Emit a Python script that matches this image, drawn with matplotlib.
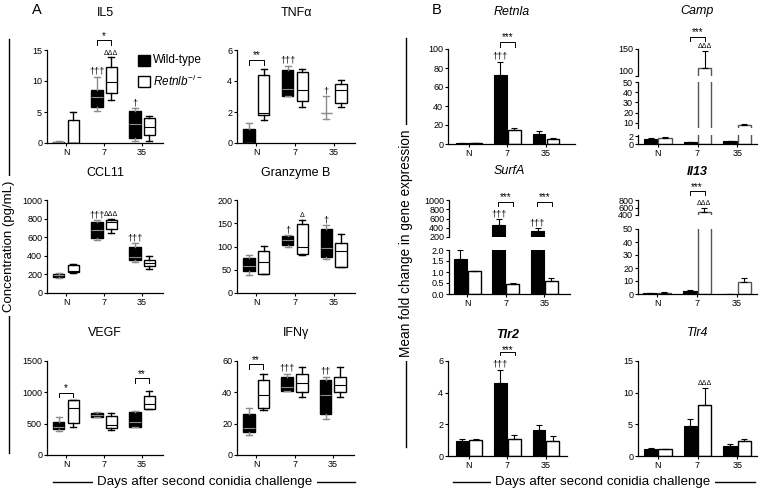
import numpy as np
import matplotlib
matplotlib.use("Agg")
import matplotlib.pyplot as plt
from matplotlib.lines import Line2D
from matplotlib.patches import Rectangle

plt.rcParams['font.family'] = ['Liberation Sans', 'DejaVu Sans']
plt.rcParams['mathtext.fontset'] = 'custom'
plt.rcParams['mathtext.it'] = 'Liberation Sans:italic'
plt.rcParams['mathtext.rm'] = 'Liberation Sans'

W, H = 760, 492
groups = ['N', '7', '35']

# box plots: [low whisker, q1, median, q3, high whisker] for N, 7, 35
il5_wt = [[0, 0.05, 0.1, 0.2, 0.3], [5.2, 5.8, 7.5, 8.5, 10.7], [0.3, 0.8, 3.0, 5.2, 5.6]]
il5_ko = [[0, 0, 0, 3.7, 5.0], [7.0, 8.0, 9.8, 12.3, 13.8], [0.4, 1.3, 2.6, 4.0, 4.4]]
tnf_wt = [[0, 0, 0, 0.9, 1.3], [3.05, 3.05, 3.5, 4.7, 5.0], [1.55, 1.95, 1.95, 1.95, 3.05]]
tnf_ko = [[1.5, 1.8, 1.95, 4.4, 4.8], [2.35, 2.7, 3.4, 4.6, 4.8], [2.35, 2.6, 3.4, 3.8, 4.05]]
ccl11_wt = [[160, 175, 190, 205, 215], [570, 590, 680, 760, 780], [330, 350, 390, 500, 540]]
ccl11_ko = [[210, 225, 240, 300, 310], [650, 690, 765, 780, 800], [260, 285, 320, 360, 400]]
gzmb_wt = [[38, 48, 57, 75, 82], [100, 104, 114, 122, 124], [73, 78, 96, 137, 146]]
gzmb_ko = [[40, 40, 66, 90, 101], [82, 84, 100, 148, 158], [56, 56, 91, 108, 127]]
vegf_wt = [[380, 410, 450, 530, 610], [600, 610, 640, 670, 680], [440, 440, 530, 680, 710]]
vegf_ko = [[440, 510, 750, 870, 880], [400, 430, 480, 620, 670], [730, 730, 810, 940, 1020]]
ifng_wt = [[13, 15, 17, 26, 30], [41, 41, 43.5, 50, 52], [23, 26, 38.5, 48, 50]]
ifng_ko = [[29, 30, 38, 48, 52], [37, 40, 46, 52, 56], [37, 40, 44.5, 50, 56]]

# bar charts: means and upper error (SEM) for N, 7, 35
retnla_wt, retnla_wt_err = [1.2, 73, 11], [0.3, 13, 2.5]
retnla_ko, retnla_ko_err = [1.0, 15, 5], [0.2, 1.5, 1.0]
camp_wt, camp_wt_err = [1.3, 0.5, 0.7], [0.15, 0.1, 0.15]
camp_ko, camp_ko_err = [1.5, 115, 8.4], [0.15, 32, 0.5]
surfa_wt, surfa_wt_err = [1.6, 450, 320], [0.4, 130, 70]
surfa_ko, surfa_ko_err = [1.03, 0.47, 0.6], [0.03, 0.05, 0.12]
il13_wt, il13_wt_err = [0.5, 2.2, 0.0], [0.1, 0.6, 0.0]
il13_ko, il13_ko_err = [1.0, 490, 9.5], [0.2, 110, 3.0]
tlr2_wt, tlr2_wt_err = [0.95, 4.6, 1.65], [0.1, 0.85, 0.3]
tlr2_ko, tlr2_ko_err = [1.0, 1.1, 0.95], [0.05, 0.25, 0.3]
tlr4_wt, tlr4_wt_err = [1.1, 4.7, 1.6], [0.2, 1.1, 0.25]
tlr4_ko, tlr4_ko_err = [1.05, 8.0, 2.3], [0.05, 2.8, 0.35]

fig = plt.figure(figsize=(7.6, 4.92), dpi=100)


def px_axes(x0, y0, x1, y1):
    return fig.add_axes([x0 / W, 1 - y1 / H, (x1 - x0) / W, (y1 - y0) / H])


def style(ax, bottom=True):
    ax.spines['top'].set_visible(False)
    ax.spines['right'].set_visible(False)
    ax.spines['left'].set_linewidth(0.9)
    ax.spines['bottom'].set_linewidth(0.9)
    ax.tick_params(labelsize=6.5, length=2.5, width=0.8, pad=1)
    ax.set_facecolor('none')
    if bottom:
        ax.set_xticks(range(3))
        ax.set_xticklabels(groups)
    else:
        ax.spines['bottom'].set_visible(False)
        ax.tick_params(axis='x', bottom=False, labelbottom=False)


def title(ax, text, y, **kw):
    b = ax.get_position()
    fig.text(b.x0 + b.width / 2, 1 - y / H, text, ha='center', va='center', fontsize=9, **kw)


def bracket(ax, x, y, h, text, off=1):
    ax.plot([x - 0.19, x - 0.19, x + 0.19, x + 0.19], [y - h, y, y, y - h],
            color='black', lw=0.7, clip_on=False)
    ax.annotate(text, (x, y), xytext=(0, off), textcoords='offset points',
                ha='center', va='baseline', fontsize=7, annotation_clip=False)


def mark(ax, x, y, text, fs=6.5):
    ax.annotate(text, (x, y), xytext=(0, 0.5), textcoords='offset points',
                ha='center', va='bottom', fontsize=fs, annotation_clip=False)


def boxpanel(rect, name, ty, wt, ko, ylim, yticks):
    ax = px_axes(*rect)
    for data, sign, face, line in [(wt, -1, 'black', '#8c8c8c'), (ko, 1, 'white', 'black')]:
        stats = [dict(whislo=d[0], q1=d[1], med=d[2], q3=d[3], whishi=d[4]) for d in data]
        res = ax.bxp(stats, positions=[i + sign * 0.19 for i in range(3)], widths=0.3,
                     capwidths=0.16, patch_artist=True, showfliers=False, manage_ticks=False,
                     boxprops=dict(facecolor=face, edgecolor='black', linewidth=1.0),
                     whiskerprops=dict(color=line, lw=1.0),
                     capprops=dict(color=line, lw=1.0),
                     medianprops=dict(color=line, lw=0.8))
        for box, d in zip(res['boxes'], data):
            if d[1] == d[3]:
                box.set_edgecolor(line)
    ax.set_xlim(-0.5, 2.55)
    ax.set_ylim(*ylim)
    ax.set_yticks(yticks)
    style(ax)
    title(ax, name, ty)
    return ax


def bars(ax, wt, wt_err, ko, ko_err, edge='black'):
    x = np.arange(3)
    ax.bar(x - 0.18, wt, 0.33, color='black', edgecolor='black', lw=0.8)
    ax.bar(x + 0.18, ko, 0.33, color='white', edgecolor=edge, lw=1.0)
    ax.errorbar(x - 0.18, wt, yerr=[np.zeros(3), wt_err], fmt='none', ecolor='black',
                elinewidth=0.8, capsize=2, capthick=0.8)
    ax.errorbar(x + 0.18, ko, yerr=[np.zeros(3), ko_err], fmt='none', ecolor='black',
                elinewidth=0.8, capsize=2, capthick=0.8)


# ---- panel A: box plots ----
ax = boxpanel((47, 50, 163, 143), 'IL5', 13, il5_wt, il5_ko, (0, 15), [0, 5, 10, 15])
bracket(ax, 1, 16.6, 0.8, '*')
mark(ax, 0.81, 10.7, '†††')
mark(ax, 1.19, 13.8, 'ΔΔΔ', 5)
mark(ax, 1.81, 5.6, '†')

ax = boxpanel((237, 50, 355, 143), 'TNFα', 13, tnf_wt, tnf_ko, (0, 6), [0, 2, 4, 6])
bracket(ax, 0, 5.36, 0.33, '**')
mark(ax, 0.81, 5.0, '†††')
mark(ax, 1.81, 3.05, '†')

ax = boxpanel((47, 200, 163, 293), 'CCL11', 173, ccl11_wt, ccl11_ko, (0, 1000), [0, 200, 400, 600, 800, 1000])
mark(ax, 0.81, 780, '†††')
mark(ax, 1.19, 800, 'ΔΔΔ', 5)
mark(ax, 1.81, 540, '†††')

ax = boxpanel((237, 200, 355, 293), 'Granzyme B', 173, gzmb_wt, gzmb_ko, (0, 200), [0, 50, 100, 150, 200])
mark(ax, 0.81, 124, '†')
mark(ax, 1.19, 158, 'Δ', 5)
mark(ax, 1.81, 146, '†')

ax = boxpanel((47, 361, 163, 455), 'VEGF', 333, vegf_wt, vegf_ko, (0, 1500), [0, 500, 1000, 1500])
bracket(ax, 0, 995, 75, '*')
bracket(ax, 2, 1223, 75, '**')

ax = boxpanel((237, 361, 354, 455), 'IFNγ', 333, ifng_wt, ifng_ko, (0, 60), [0, 20, 40, 60])
bracket(ax, 0, 57.9, 3, '**')
mark(ax, 0.81, 52, '†††')
mark(ax, 1.81, 50, '††')

# legend
fig.add_artist(Rectangle((138 / W, 1 - 66 / H), 12 / W, 11 / H, transform=fig.transFigure,
                         facecolor='black', edgecolor='black', lw=1))
fig.add_artist(Rectangle((138 / W, 1 - 87 / H), 12 / W, 11 / H, transform=fig.transFigure,
                         facecolor='white', edgecolor='black', lw=1))
fig.text(153 / W, 1 - 60 / H, 'Wild-type', fontsize=8.5, va='center')
fig.text(153 / W, 1 - 81 / H, r'$\it{Retnlb}^{-/-}$', fontsize=8.5, va='center')

# ---- panel B: bar charts ----
ax = px_axes(448, 49, 575, 144)
bars(ax, retnla_wt, retnla_wt_err, retnla_ko, retnla_ko_err)
ax.set_xlim(-0.54, 2.75)
ax.set_ylim(0, 100)
ax.set_yticks([0, 20, 40, 60, 80, 100])
style(ax)
title(ax, 'Retnla', 12, style='italic')
bracket(ax, 1, 107.7, 5.2, '***')
mark(ax, 0.82, 86.7, '†††')

# Camp, broken axis in three pieces
camp_axes = [px_axes(638, 49, 757, 76), px_axes(638, 82, 757, 128), px_axes(638, 135, 757, 144)]
camp_lims = [(100, 150), (5, 50), (0, 2.25)]
camp_ticks = [[100, 150], [10, 20, 30, 40, 50], [0, 2]]
for i, a in enumerate(camp_axes):
    bars(a, camp_wt, camp_wt_err, camp_ko, camp_ko_err, edge='#555555')
    a.set_xlim(-0.5, 2.5)
    a.set_ylim(*camp_lims[i])
    a.set_yticks(camp_ticks[i])
    style(a, bottom=(i == 2))
camp_axes[0].get_yticklabels()[0].set_va('bottom')
title(camp_axes[0], 'Camp', 11, style='italic')
bracket(camp_axes[0], 1, 173, 8, '***')
mark(camp_axes[0], 1.18, 147, 'ΔΔΔ', 5)

# SurfA, broken axis
surf_axes = [px_axes(449, 200, 570, 237), px_axes(449, 250, 570, 294)]
for i, a in enumerate(surf_axes):
    bars(a, surfa_wt, surfa_wt_err, surfa_ko, surfa_ko_err)
    a.set_xlim(-0.47, 2.66)
    style(a, bottom=(i == 1))
surf_axes[0].set_ylim(200, 1000)
surf_axes[0].set_yticks([200, 400, 600, 800, 1000])
surf_axes[1].set_ylim(0, 2.0)
surf_axes[1].set_yticks([0, 0.5, 1.0, 1.5, 2.0])
surf_axes[1].set_yticklabels(['0.0', '0.5', '1.0', '1.5', '2.0'])
title(surf_axes[0], 'SurfA', 171, style='italic')
bracket(surf_axes[0], 1, 963, 93, '***')
bracket(surf_axes[0], 2, 963, 93, '***')
mark(surf_axes[0], 0.82, 590, '†††')
mark(surf_axes[0], 1.82, 400, '†††')

# Il13, broken axis
il13_axes = [px_axes(638, 200, 757, 215), px_axes(638, 229, 757, 294)]
for i, a in enumerate(il13_axes):
    bars(a, il13_wt, il13_wt_err, il13_ko, il13_ko_err, edge='#555555')
    a.set_xlim(-0.48, 2.5)
    style(a, bottom=(i == 1))
il13_axes[0].set_ylim(400, 800)
il13_axes[0].set_yticks([400, 600, 800])
il13_axes[1].set_ylim(0, 50)
il13_axes[1].set_yticks([0, 10, 20, 30, 40, 50])
title(il13_axes[0], 'Il13', 172, style='italic', fontweight='bold')
bracket(il13_axes[0], 1, 1040, 107, '***')
mark(il13_axes[0], 1.18, 600, 'ΔΔΔ', 5)

ax = px_axes(448, 361, 567, 456)
bars(ax, tlr2_wt, tlr2_wt_err, tlr2_ko, tlr2_ko_err)
ax.set_xlim(-0.54, 2.55)
ax.set_ylim(0, 6)
ax.set_yticks([0, 2, 4, 6])
style(ax)
title(ax, 'Tlr2', 335, style='italic', fontweight='bold')
bracket(ax, 1, 6.57, 0.22, '***', off=-0.5)
mark(ax, 0.82, 5.48, '†††')

ax = px_axes(638, 361, 757, 456)
bars(ax, tlr4_wt, tlr4_wt_err, tlr4_ko, tlr4_ko_err)
ax.set_xlim(-0.5, 2.5)
ax.set_ylim(0, 15)
ax.set_yticks([0, 5, 10, 15])
style(ax)
title(ax, 'Tlr4', 333, style='italic')
mark(ax, 1.18, 10.8, 'ΔΔΔ', 5)

# ---- shared labels ----
box_bg = dict(facecolor='white', edgecolor='none', pad=3)
fig.add_artist(Line2D([9 / W, 9 / W], [1 - 39 / H, 1 - 453 / H], color='black', lw=1))
fig.text(9 / W, 1 - 246 / H, 'Concentration (pg/mL)', rotation=90, ha='center', va='center',
         fontsize=9.5, bbox=box_bg)
fig.add_artist(Line2D([406 / W, 406 / W], [1 - 38 / H, 1 - 447 / H], color='black', lw=1))
fig.text(406 / W, 1 - 243 / H, 'Mean fold change in gene expression', rotation=90, ha='center',
         va='center', fontsize=9.8, bbox=box_bg)
fig.add_artist(Line2D([53 / W, 355 / W], [1 - 482 / H, 1 - 482 / H], color='black', lw=1))
fig.text(205 / W, 1 - 482 / H, 'Days after second conidia challenge', ha='center', va='center',
         fontsize=9.6, bbox=box_bg)
fig.add_artist(Line2D([453 / W, 755 / W], [1 - 482 / H, 1 - 482 / H], color='black', lw=1))
fig.text(603 / W, 1 - 482 / H, 'Days after second conidia challenge', ha='center', va='center',
         fontsize=9.6, bbox=box_bg)

fig.text(37 / W, 1 - 10 / H, 'A', ha='center', va='center', fontsize=10.5)
fig.text(437 / W, 1 - 10 / H, 'B', ha='center', va='center', fontsize=10.5)

fig.savefig('out.png', dpi=100)
